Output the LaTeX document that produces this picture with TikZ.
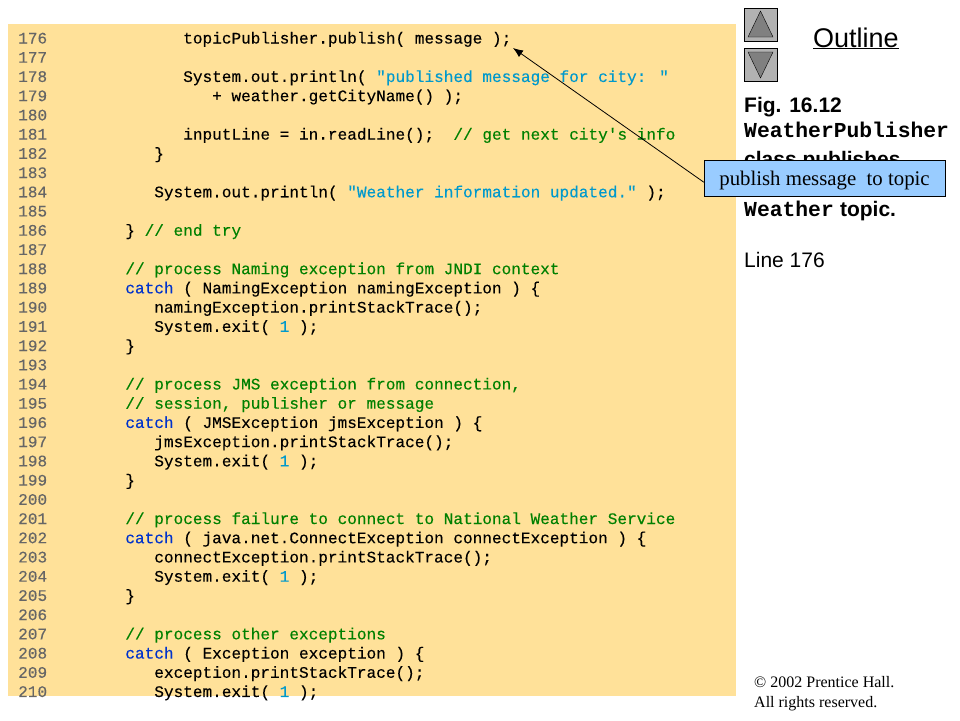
\documentclass[tikz,border=0pt]{standalone}
\usepackage{fontspec}
\usetikzlibrary{arrows.meta}
\setmainfont{Liberation Sans}
\newfontfamily\codefont[FakeBold=0.2]{Liberation Mono}
\newfontfamily\sidefont{Liberation Mono}
\newfontfamily\notefont{Liberation Serif}
\definecolor{panelcolor}{HTML}{FFE199}
\definecolor{notecolor}{HTML}{99CCFF}
\definecolor{buttoncolor}{HTML}{B2B2B2}
\definecolor{arrowcolor}{HTML}{808080}
\definecolor{numcolor}{HTML}{666666}
\definecolor{cmtcolor}{HTML}{008000}
\definecolor{kwcolor}{HTML}{0033CC}
\definecolor{strcolor}{HTML}{0099CC}
\newcommand{\cmt}[1]{\textcolor{cmtcolor}{#1}}
\newcommand{\kw}[1]{\textcolor{kwcolor}{#1}}
\newcommand{\str}[1]{\textcolor{strcolor}{#1}}
\tikzset{
  codeline/.style={anchor=base west,inner sep=0pt,font=\codefont\fontsize{16.08}{19}\selectfont},
  numline/.style={codeline,text=numcolor},
  sidetext/.style={anchor=base west,inner sep=0pt,font=\fontsize{21}{24}\selectfont},
  sidecode/.style={anchor=base west,inner sep=0pt,font=\sidefont\bfseries\fontsize{21.33}{24}\selectfont},
  button/.style={draw=black,fill=buttoncolor,minimum size=33pt,inner sep=0pt},
  smalltext/.style={anchor=base west,inner sep=0pt,font=\notefont\fontsize{16}{18}\selectfont}
}
\begin{document}
\begin{tikzpicture}[x=1pt,y=-1pt]
    \useasboundingbox (0,0) rectangle (960,720);

    %code panel:
    \fill[panelcolor] (8,24) rectangle (736,696);

    %line numbers:
    \foreach \num in {176,...,210}
        \node[numline] (num\num) at (18,{43.5+19.22*(\num-176)}) {\num};

    %code lines:
    \foreach \num/\col/\code in {
        176/17/{topicPublisher.publish( message );},
        178/17/{System.out.println( \str{"published message for city: "}},
        179/20/{+ weather.getCityName() );},
        181/17/{inputLine = in.readLine();\ \ \cmt{// get next city's info}},
        182/14/{\}},
        184/14/{System.out.println( \str{"Weather information updated."} );},
        186/11/{\} \cmt{// end try}},
        188/11/{\cmt{// process Naming exception from JNDI context}},
        189/11/{\kw{catch} ( NamingException namingException ) \{},
        190/14/{namingException.printStackTrace();},
        191/14/{System.exit( \str{1} );},
        192/11/{\}},
        194/11/{\cmt{// process JMS exception from connection,}},
        195/11/{\cmt{// session, publisher or message}},
        196/11/{\kw{catch} ( JMSException jmsException ) \{},
        197/14/{jmsException.printStackTrace();},
        198/14/{System.exit( \str{1} );},
        199/11/{\}},
        201/11/{\cmt{// process failure to connect to National Weather Service}},
        202/11/{\kw{catch} ( java.net.ConnectException connectException ) \{},
        203/14/{connectException.printStackTrace();},
        204/14/{System.exit( \str{1} );},
        205/11/{\}},
        207/11/{\cmt{// process other exceptions}},
        208/11/{\kw{catch} ( Exception exception ) \{},
        209/14/{exception.printStackTrace();},
        210/14/{System.exit( \str{1} );}}
        \node[codeline] (code\num) at ({19+9.65*\col},{43.5+19.22*(\num-176)}) {\code};

    %buttons:
    \node[button] (upbutton) at (760.5,24.5) {};
    \node[button] (downbutton) at (760.5,64.5) {};
    \draw[fill=arrowcolor] (760.5,11) -- (773,37) -- (748,37) -- cycle;
    \draw[fill=arrowcolor] (760.5,78) -- (773,52) -- (748,52) -- cycle;

    %side text:
    \node[anchor=base west,inner sep=0pt,font=\fontsize{27}{32}\selectfont] (outline) at (813,47) {\underline{Outline}};
    \node[sidetext] (figlabel) at (744,112) {\textbf{Fig. 16.12}};
    \node[sidecode] (classname) at (744,137) {WeatherPublisher};
    \node[sidetext] (classtext) at (744,166) {\textbf{class publishes}};
    \node[sidecode] (topicname) at (744,216) {Weather};
    \node[sidetext,anchor=base west] (topictext) at (topicname.base east) {\textbf{ topic.}};
    \node[sidetext] (linelabel) at (744,267) {Line 176};

    %note over the side text:
    \node[draw=black,fill=notecolor,minimum width=241pt,minimum height=36pt,inner sep=0pt,
          text height=18pt,text depth=3.5pt,
          font=\notefont\fontsize{20.8}{24}\selectfont] (note) at (824.5,178) {publish message\ \ to topic};
    \coordinate (target) at (513,48);
    \draw[-{Latex[length=10pt,width=8pt]},black,line width=0.8pt] (note.182) -- (target);

    %copyright:
    \node[smalltext] (copyline) at (754,687) {\textcopyright\ 2002 Prentice Hall.};
    \node[smalltext] (rightsline) at (754,707) {All rights reserved.};

\end{tikzpicture}
\end{document}
